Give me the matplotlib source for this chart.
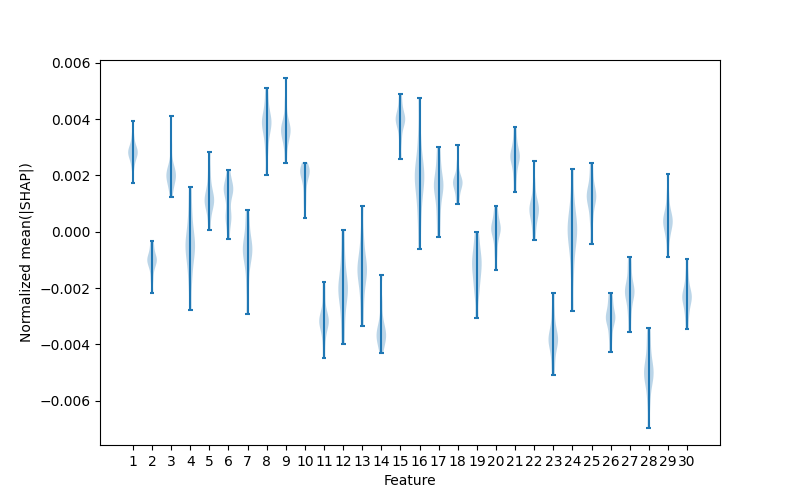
import matplotlib
import matplotlib.pyplot as plt

matplotlib.use('Agg')

# samples per feature, in units of 1e-3
f01 = [1.75, 2.3, 2.6, 2.72, 2.8, 2.85, 2.92, 3.05, 3.4, 3.95]
f02 = [-2.16, -1.7, -1.35, -1.15, -1.05, -1.0, -0.92, -0.8, -0.55, -0.31]
f03 = [1.25, 1.6, 1.85, 1.95, 2.0, 2.05, 2.15, 2.4, 3.1, 4.13]
f04 = [-2.76, -1.8, -1.2, -0.8, -0.55, -0.45, -0.2, 0.2, 0.8, 1.59]
f05 = [0.07, 0.6, 0.9, 1.05, 1.12, 1.2, 1.4, 1.7, 2.2, 2.85]
f06 = [-0.25, 0.3, 0.5, 0.75, 1.2, 1.42, 1.52, 1.6, 1.8, 2.2]
f07 = [-2.91, -2.0, -1.3, -0.9, -0.72, -0.62, -0.45, -0.2, 0.3, 0.78]
f08 = [2.03, 2.8, 3.3, 3.6, 3.8, 3.9, 4.0, 4.2, 4.6, 5.09]
f09 = [2.45, 3.0, 3.35, 3.5, 3.6, 3.65, 3.75, 4.0, 4.6, 5.48]
f10 = [0.5, 1.0, 1.4, 1.75, 1.95, 2.08, 2.14, 2.2, 2.3, 2.46]
f11 = [-4.47, -3.9, -3.5, -3.3, -3.2, -3.15, -3.0, -2.8, -2.3, -1.8]
f12 = [-4.0, -3.3, -2.7, -2.3, -2.1, -1.95, -1.7, -1.3, -0.7, 0.07]
f13 = [-3.33, -2.6, -2.0, -1.6, -1.4, -1.3, -1.1, -0.7, -0.1, 0.93]
f14 = [-4.32, -4.0, -3.85, -3.72, -3.65, -3.55, -3.4, -3.1, -2.5, -1.52]
f15 = [2.6, 3.2, 3.6, 3.85, 3.95, 4.0, 4.1, 4.25, 4.55, 4.91]
f16 = [-0.6, 0.4, 1.1, 1.6, 1.9, 2.0, 2.2, 2.6, 3.4, 4.74]
f17 = [-0.2, 0.4, 0.9, 1.3, 1.55, 1.65, 1.8, 2.1, 2.5, 3.0]
f18 = [0.97, 1.25, 1.5, 1.65, 1.72, 1.78, 1.85, 2.0, 2.4, 3.07]
f19 = [-3.05, -2.3, -1.9, -1.6, -1.35, -1.15, -0.95, -0.75, -0.4, 0.01]
f20 = [-1.35, -0.8, -0.4, -0.1, 0.03, 0.1, 0.2, 0.35, 0.6, 0.9]
f21 = [1.42, 1.9, 2.25, 2.5, 2.62, 2.7, 2.8, 3.0, 3.3, 3.71]
f22 = [-0.28, 0.15, 0.45, 0.65, 0.78, 0.85, 0.95, 1.2, 1.7, 2.53]
f23 = [-5.08, -4.6, -4.2, -3.95, -3.85, -3.78, -3.6, -3.3, -2.8, -2.16]
f24 = [-2.8, -1.6, -0.8, -0.35, -0.05, 0.1, 0.3, 0.6, 1.2, 2.23]
f25 = [-0.42, 0.3, 0.75, 1.05, 1.2, 1.28, 1.4, 1.6, 2.0, 2.46]
f26 = [-4.26, -3.8, -3.45, -3.2, -3.1, -3.02, -2.9, -2.7, -2.45, -2.19]
f27 = [-3.55, -3.0, -2.6, -2.3, -2.18, -2.1, -1.95, -1.7, -1.3, -0.91]
f28 = [-6.95, -6.1, -5.5, -5.2, -5.05, -4.95, -4.75, -4.4, -3.9, -3.4]
f29 = [-0.89, -0.3, 0.05, 0.25, 0.35, 0.42, 0.55, 0.8, 1.3, 2.04]
f30 = [-3.44, -3.0, -2.7, -2.45, -2.35, -2.28, -2.15, -1.9, -1.5, -0.95]

features = [f01, f02, f03, f04, f05, f06, f07, f08, f09, f10,
            f11, f12, f13, f14, f15, f16, f17, f18, f19, f20,
            f21, f22, f23, f24, f25, f26, f27, f28, f29, f30]
labels = [str(i) for i in range(1, 31)]

data = [[v * 1e-3 for v in f] for f in features]

fig, ax = plt.subplots(figsize=(8, 5), dpi=100)
ax.violinplot(data, bw_method=0.35)
ax.set_xticks(range(1, len(labels) + 1))
ax.set_xticklabels(labels)
ax.set_xlabel('Feature')
ax.set_ylabel('Normalized mean(|SHAP|)')

plt.savefig('out.png')
